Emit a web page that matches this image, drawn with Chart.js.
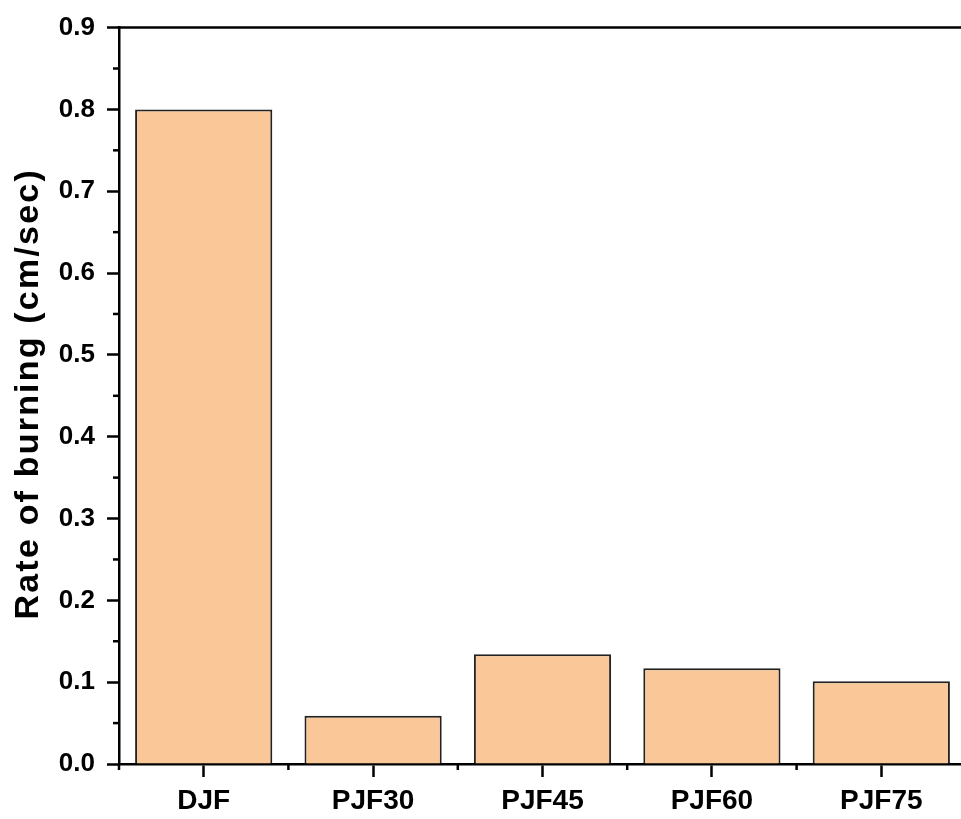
<!DOCTYPE html>
<html>
<head>
<meta charset="utf-8">
<script src="https://cdn.jsdelivr.net/npm/chart.js@4.4.1/dist/chart.umd.min.js"></script>
<style>
  html, body { margin: 0; padding: 0; background: #fff; overflow: hidden; }
  #wrap { width: 966px; height: 819px; position: relative; }
</style>
</head>
<body>
<div id="wrap"><canvas id="c" width="966" height="819"></canvas></div>
<script>
const categories = ['DJF', 'PJF30', 'PJF45', 'PJF60', 'PJF75'];
const burningRate = [0.800, 0.059, 0.134, 0.117, 0.101];
const yTicks = [0.0, 0.1, 0.2, 0.3, 0.4, 0.5, 0.6, 0.7, 0.8, 0.9];
const yTitle = 'Rate of burning (cm/sec)';

const FONT = '"Liberation Sans", Arial, Helvetica, sans-serif';
const AXIS_W = 2.5;

const framePlugin = {
  id: 'frame',
  afterDraw(chart) {
    const { ctx, chartArea, scales } = chart;
    const x = scales.x, y = scales.y;
    ctx.save();
    ctx.strokeStyle = '#000';
    ctx.lineWidth = AXIS_W;
    // top border
    ctx.beginPath();
    ctx.moveTo(chartArea.left - AXIS_W / 2, chartArea.top);
    ctx.lineTo(chartArea.right + 5, chartArea.top);
    ctx.stroke();
    // y minor ticks
    for (let i = 0; i < yTicks.length - 1; i++) {
      const v = (yTicks[i] + yTicks[i + 1]) / 2;
      const py = y.getPixelForValue(v);
      ctx.beginPath();
      ctx.moveTo(chartArea.left - 6, py);
      ctx.lineTo(chartArea.left, py);
      ctx.stroke();
    }
    // x minor ticks at category boundaries
    for (let i = 0; i <= categories.length; i++) {
      const px = x.getPixelForValue(i - 0.5);
      ctx.beginPath();
      ctx.moveTo(px, chartArea.bottom);
      ctx.lineTo(px, chartArea.bottom + 6);
      ctx.stroke();
    }
    // y title
    ctx.translate(38, (chartArea.top + chartArea.bottom) / 2 - 2);
    ctx.rotate(-Math.PI / 2);
    ctx.fillStyle = '#000';
    ctx.font = 'bold 34px ' + FONT;
    ctx.textAlign = 'center';
    ctx.textBaseline = 'alphabetic';
    try { ctx.letterSpacing = '2.2px'; } catch (e) {}
    ctx.fillText(yTitle, 0, 0);
    ctx.restore();
  }
};

new Chart(document.getElementById('c'), {
  type: 'bar',
  data: {
    labels: categories,
    datasets: [{
      data: burningRate,
      backgroundColor: '#FAC898',
      borderColor: '#222',
      borderWidth: 2,
      borderSkipped: 'bottom',
      barPercentage: 0.81,
      categoryPercentage: 1.0
    }]
  },
  options: {
    responsive: false,
    animation: false,
    devicePixelRatio: 1,
    layout: { padding: { top: 27, right: 0, bottom: 0, left: 0 } },
    plugins: { legend: { display: false }, tooltip: { enabled: false }, title: { display: false } },
    scales: {
      x: {
        type: 'category',
        offset: true,
        grid: {
          offset: false,
          drawOnChartArea: false,
          drawTicks: true,
          tickLength: 13,
          tickWidth: AXIS_W,
          tickColor: '#000'
        },
        border: { display: true, color: '#000', width: AXIS_W },
        ticks: {
          color: '#000',
          font: { family: FONT, size: 28, weight: 'bold' },
          padding: 7,
          maxRotation: 0,
          autoSkip: false
        },
        afterFit(scale) { scale.height = 55; }
      },
      y: {
        min: 0,
        max: 0.9,
        afterBuildTicks(scale) { scale.ticks = yTicks.map(v => ({ value: v })); },
        grid: {
          drawOnChartArea: false,
          drawTicks: true,
          tickLength: 12,
          tickWidth: AXIS_W,
          tickColor: '#000'
        },
        border: { display: true, color: '#000', width: AXIS_W },
        ticks: {
          color: '#000',
          font: { family: FONT, size: 26, weight: 'bold' },
          padding: 12,
          callback: (v) => Number(v).toFixed(1)
        },
        afterFit(scale) { scale.width = 119; }
      }
    }
  },
  plugins: [framePlugin]
});
</script>
</body>
</html>
